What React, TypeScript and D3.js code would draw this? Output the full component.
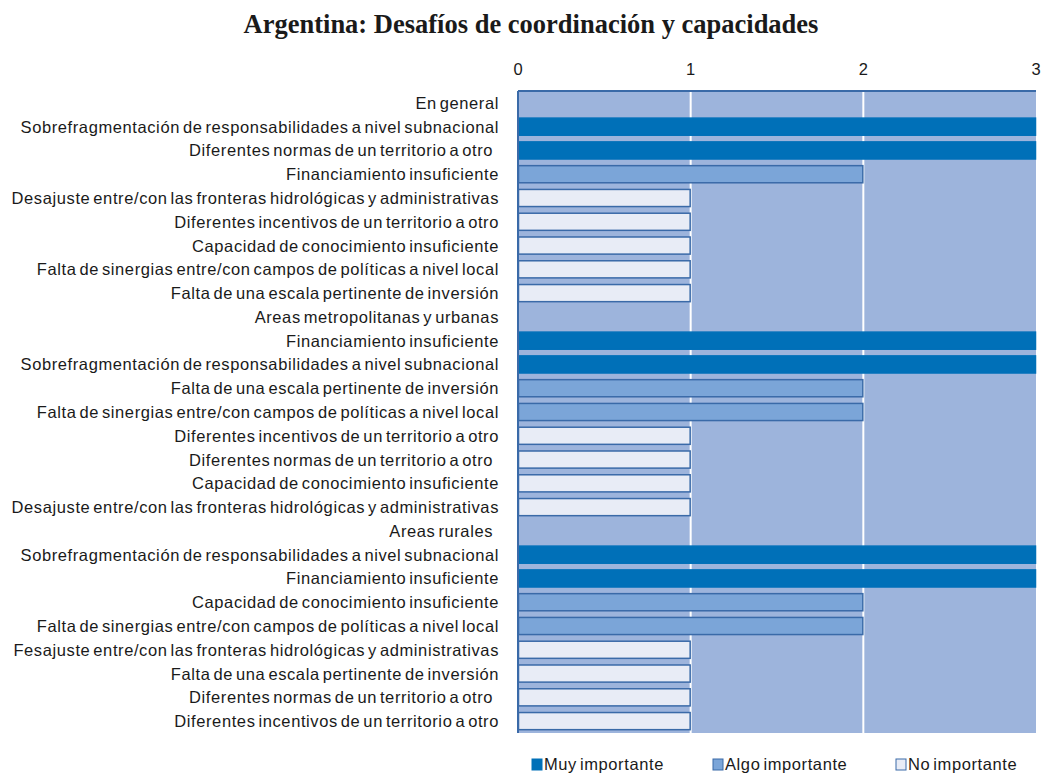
import React from "react";
import * as d3 from "d3";

const categories: string[] = [
  "En general",
  "Sobrefragmentación de responsabilidades a nivel subnacional",
  "Diferentes normas de un territorio a otro  ",
  "Financiamiento insuficiente",
  "Desajuste entre/con las fronteras hidrológicas y administrativas",
  "Diferentes incentivos de un territorio a otro",
  "Capacidad de conocimiento insuficiente",
  "Falta de sinergias entre/con campos de políticas a nivel local",
  "Falta de una escala pertinente de inversión",
  "Areas metropolitanas y urbanas",
  "Financiamiento insuficiente",
  "Sobrefragmentación de responsabilidades a nivel subnacional",
  "Falta de una escala pertinente de inversión",
  "Falta de sinergias entre/con campos de políticas a nivel local",
  "Diferentes incentivos de un territorio a otro",
  "Diferentes normas de un territorio a otro  ",
  "Capacidad de conocimiento insuficiente",
  "Desajuste entre/con las fronteras hidrológicas y administrativas",
  "Areas rurales  ",
  "Sobrefragmentación de responsabilidades a nivel subnacional",
  "Financiamiento insuficiente",
  "Capacidad de conocimiento insuficiente",
  "Falta de sinergias entre/con campos de políticas a nivel local",
  "Fesajuste entre/con las fronteras hidrológicas y administrativas",
  "Falta de una escala pertinente de inversión",
  "Diferentes normas de un territorio a otro  ",
  "Diferentes incentivos de un territorio a otro",
];

const muyImportante: number[] = [0, 3, 3, 0, 0, 0, 0, 0, 0, 0, 3, 3, 0, 0, 0, 0, 0, 0, 0, 3, 3, 0, 0, 0, 0, 0, 0];
const algoImportante: number[] = [0, 0, 0, 2, 0, 0, 0, 0, 0, 0, 0, 0, 2, 2, 0, 0, 0, 0, 0, 0, 0, 2, 2, 0, 0, 0, 0];
const noImportante: number[] = [0, 0, 0, 0, 1, 1, 1, 1, 1, 0, 0, 0, 0, 0, 1, 1, 1, 1, 0, 0, 0, 0, 0, 1, 1, 1, 1];

const ticks: number[] = [0, 1, 2, 3];
const seriesNames: string[] = ["Muy importante", "Algo importante", "No importante"];

const title = "Argentina: Desafíos de coordinación y capacidades";

const W = 1041;
const H = 774;
const plot = { left: 518, right: 1036, top: 91, bottom: 733 };

const colors = {
  bg: "#9db4dc",
  muy: "#0070b8",
  algo: "#7ba5d8",
  no: "#e8ecf6",
  border: "#3a6aa8",
};

export default function App() {
  const x = d3.scaleLinear().domain([0, 3]).range([plot.left, plot.right]);
  const idx = categories.map((_, i) => i);
  const y = d3
    .scaleBand<number>()
    .domain(idx)
    .range([plot.top, plot.bottom])
    .paddingInner(0.28)
    .paddingOuter(0.14);
  const row = d3.scaleBand<number>().domain(idx).range([plot.top, plot.bottom]);

  const series = [
    { name: seriesNames[0], values: muyImportante, fill: colors.muy, stroke: colors.muy },
    { name: seriesNames[1], values: algoImportante, fill: colors.algo, stroke: colors.border },
    { name: seriesNames[2], values: noImportante, fill: colors.no, stroke: colors.border },
  ];

  const font = "'Liberation Sans', Arial, sans-serif";
  const legendX = [532, 713, 896];

  return (
    <svg width={W} height={H} style={{ display: "block", position: "absolute", left: 0, top: 0 }}>
      <rect x={0} y={0} width={W} height={H} fill="#ffffff" />
      <text
        x={531}
        y={33}
        textAnchor="middle"
        fontFamily="'Liberation Serif', 'Times New Roman', serif"
        fontWeight="bold"
        fontSize={26.5}
        fill="#1a1a1a"
      >
        {title}
      </text>
      <rect
        x={plot.left}
        y={plot.top}
        width={plot.right - plot.left}
        height={plot.bottom - plot.top}
        fill={colors.bg}
      />
      {ticks.slice(1, -1).map((t) => (
        <line key={t} x1={x(t)} x2={x(t)} y1={plot.top} y2={plot.bottom} stroke="#ffffff" strokeWidth={2} />
      ))}
      {series.map((s) =>
        s.values.map((v, i) =>
          v > 0 ? (
            <rect
              key={s.name + i}
              x={x(0) + 0.5}
              y={y(i) as number}
              width={x(v) - x(0) - 1}
              height={y.bandwidth()}
              fill={s.fill}
              stroke={s.stroke}
              strokeWidth={1.5}
            />
          ) : null
        )
      )}
      <line x1={plot.left} x2={plot.right} y1={plot.top} y2={plot.top} stroke={colors.border} strokeWidth={2} />
      <line x1={plot.left} x2={plot.left} y1={plot.top} y2={plot.bottom} stroke={colors.border} strokeWidth={2} />
      {ticks.map((t) => (
        <text
          key={"t" + t}
          x={x(t)}
          y={75}
          textAnchor="middle"
          fontFamily={font}
          fontSize={16.5}
          fill="#1a1a1a"
        >
          {t}
        </text>
      ))}
      {categories.map((c, i) => (
        <text
          key={"c" + i}
          x={499}
          y={(row(i) as number) + row.bandwidth() / 2 + 6}
          textAnchor="end"
          fontFamily={font}
          fontSize={16.5}
          letterSpacing={0.6}
          wordSpacing={-2.2}
          fill="#1a1a1a"
          style={{ whiteSpace: "pre" }}
        >
          {c}
        </text>
      ))}
      {series.map((s, i) => (
        <g key={"l" + i}>
          <rect
            x={legendX[i]}
            y={759}
            width={10}
            height={11}
            fill={s.fill}
            stroke={s.stroke}
            strokeWidth={1}
          />
          <text
            x={legendX[i] + 12}
            y={770}
            fontFamily={font}
            fontSize={16.5}
            letterSpacing={0.6}
            wordSpacing={-2.2}
            fill="#1a1a1a"
          >
            {s.name}
          </text>
        </g>
      ))}
    </svg>
  );
}
